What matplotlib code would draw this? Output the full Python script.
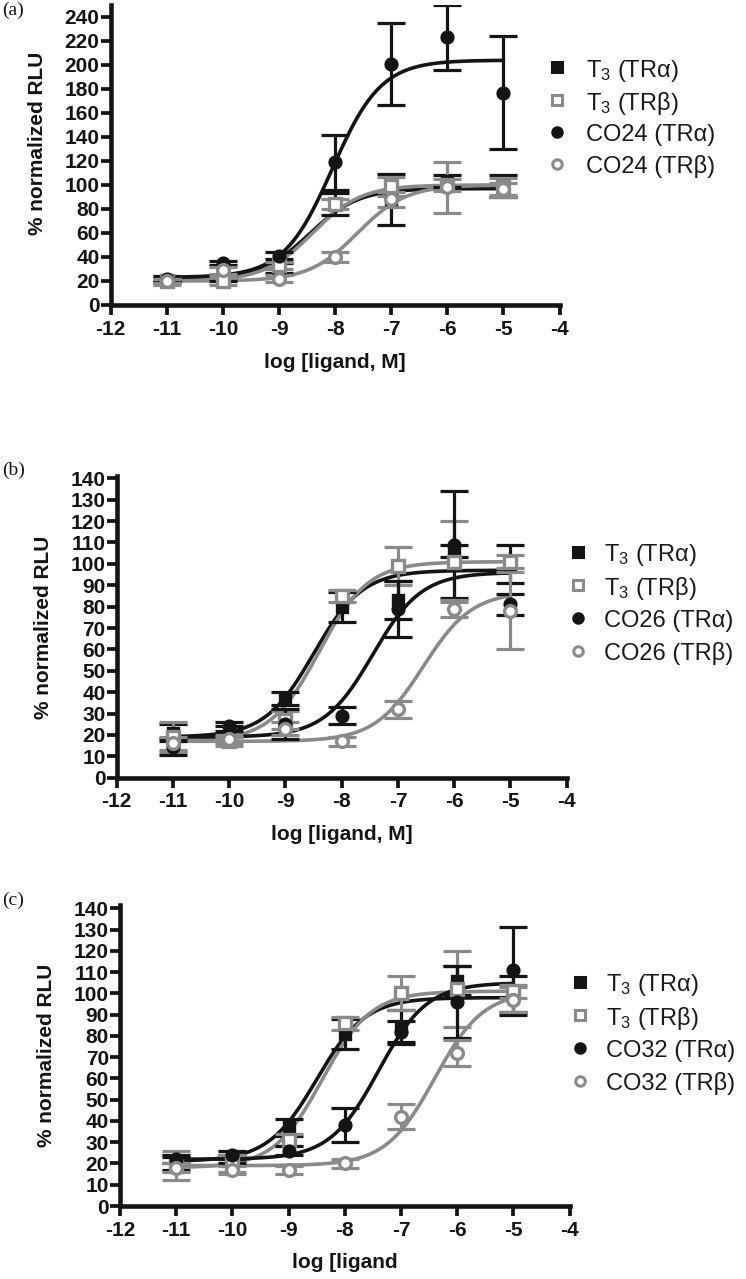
import numpy as np
import matplotlib
matplotlib.use("Agg")
import matplotlib.pyplot as plt
from matplotlib.lines import Line2D

plt.rcParams['font.family'] = ['Liberation Sans', 'DejaVu Sans']
plt.rcParams['mathtext.fontset'] = 'custom'
plt.rcParams['mathtext.rm'] = 'Liberation Sans'
plt.rcParams['mathtext.it'] = 'Liberation Sans:italic'
plt.rcParams['mathtext.bf'] = 'Liberation Sans:bold'

# ---------------- data ----------------
log_conc = [-11, -10, -9, -8, -7, -6, -5]
x_ticks = [-12, -11, -10, -9, -8, -7, -6, -5, -4]

# panel (a) : T3 and CO24
a_t3_tra = [21, 22, 31, 84, 88, 103, 99]
a_t3_tra_err = [2, 2, 4, 9, 21, 5, 9]
a_t3_trb = [20, 20, 33, 84, 99, 100, 98]
a_t3_trb_err = [3, 3, 3, 4, 8, 5, 8]
a_co_tra = [22, 35, 41, 119, 201, 223, 177]
a_co_tra_err = [2, 2, 3, 23, 34, 27, 47]
a_co_trb = [20, 29, 22, 40, 88, 98, 97]
a_co_trb_err = [2, 3, 3, 4, 6, 21, 5]
# fitted curves: bottom, top, logEC50, hill
a_fit_t3_tra = [22, 97, -8.45, 1.0]
a_fit_t3_trb = [20, 100, -8.4, 1.0]
a_fit_co_tra = [23, 204, -8.05, 1.0]
a_fit_co_trb = [20, 100, -7.6, 1.0]
a_yticks = list(range(0, 241, 20))
a_labels = ["T$_3$ (TRα)", "T$_3$ (TRβ)", "CO24 (TRα)", "CO24 (TRβ)"]

# panel (b) : T3 and CO26
b_t3_tra = [21, 22, 37, 80, 83, 106, 100]
b_t3_tra_err = [4, 2, 3, 7, 9, 3, 9]
b_t3_trb = [19, 17, 27, 85, 99, 101, 101]
b_t3_trb_err = [7, 2, 4, 3, 9, 19, 3]
b_co_tra = [14.5, 24, 25, 29, 79, 109, 81]
b_co_tra_err = [4, 2, 7, 4, 13, 25, 5]
b_co_trb = [16, 18, 23, 17, 32, 79, 78]
b_co_trb_err = [3, 2, 3, 2, 4, 4, 18]
b_fit_t3_tra = [19, 97, -8.5, 1.0]
b_fit_t3_trb = [17, 101, -8.4, 1.0]
b_fit_co_tra = [19, 96, -7.45, 1.0]
b_fit_co_trb = [17, 87, -6.55, 1.0]
b_yticks = list(range(0, 141, 10))
b_labels = ["T$_3$ (TRα)", "T$_3$ (TRβ)", "CO26 (TRα)", "CO26 (TRβ)"]

# panel (c) : T3 and CO32
c_t3_tra = [20, 22, 37, 81, 84, 106, 99]
c_t3_tra_err = [3, 2, 4, 7, 8, 7, 9]
c_t3_trb = [19, 20, 31, 86, 100, 102, 101]
c_t3_trb_err = [7, 4, 3, 3, 8, 18, 3]
c_co_tra = [22, 24, 26, 38, 82, 96, 111]
c_co_tra_err = [2, 2, 2, 8, 5, 17, 20]
c_co_trb = [18, 17, 17, 20, 42, 72, 97]
c_co_trb_err = [2, 2, 2, 2, 6, 6, 6]
c_fit_t3_tra = [21, 98, -8.5, 1.0]
c_fit_t3_trb = [18, 101, -8.4, 1.0]
c_fit_co_tra = [22, 105, -7.4, 1.0]
c_fit_co_trb = [19, 101, -6.4, 1.0]
c_yticks = list(range(0, 141, 10))
c_labels = ["T$_3$ (TRα)", "T$_3$ (TRβ)", "CO32 (TRα)", "CO32 (TRβ)"]

# ---------------- style ----------------
BLACK = '#141414'
GRAY = '#8a8a8a'
styles = [
    dict(color=BLACK, marker='s', mfc=BLACK, mec=BLACK),
    dict(color=GRAY, marker='s', mfc='white', mec=GRAY),
    dict(color=BLACK, marker='o', mfc=BLACK, mec=BLACK),
    dict(color=GRAY, marker='o', mfc='white', mec=GRAY),
]

W, H = 746, 1279
fig = plt.figure(figsize=(W / 100, H / 100), dpi=100)


def px_rect(left, bottom, width, height):
    return [left / W, 1 - bottom / H, width / W, height / H]


def hill(x, p):
    b, t, ec, h = p
    return b + (t - b) / (1 + 10 ** ((ec - x) * h))


def panel(rect, ylim, yticks, series, fits, labels, letter, letter_pos,
          leg_marker_x, leg_text_x, leg_rows, xlabel, ylabel_y):
    ax = fig.add_axes(px_rect(*rect))
    xs = np.linspace(-11, -5, 400)
    for (vals, errs), fit, st in zip(series, fits, styles):
        ax.plot(xs, hill(xs, fit), color=st['color'], lw=2.6, zorder=2,
                solid_capstyle='round')
        ax.errorbar(log_conc, vals, yerr=errs, fmt='none', ecolor=st['color'],
                    elinewidth=2.3, capsize=10, capthick=2.3, zorder=3)
        ax.plot(log_conc, vals, linestyle='none', marker=st['marker'],
                ms=8.5 if st['mfc'] == 'white' else 7.8,
                mfc=st['mfc'], mec=st['mec'], mew=2.4, zorder=4)
    ax.set_xlim(-12, -4)
    ax.set_ylim(*ylim)
    ax.set_xticks(x_ticks)
    ax.set_xticklabels([str(t) for t in x_ticks])
    ax.set_yticks(yticks)
    for s in ['top', 'right']:
        ax.spines[s].set_visible(False)
    for s in ['left', 'bottom']:
        ax.spines[s].set_linewidth(3.3)
        ax.spines[s].set_color(BLACK)
        ax.spines[s].set_capstyle('projecting')
    ax.tick_params(axis='both', direction='out', length=7, width=2.7,
                   color=BLACK, labelsize=15, labelcolor=BLACK)
    ax.tick_params(axis='x', pad=3.5)
    ax.tick_params(axis='y', pad=1)
    for lab in ax.get_xticklabels() + ax.get_yticklabels():
        lab.set_fontweight('bold')
    ax.set_ylabel('% normalized RLU', fontsize=15, fontweight='bold',
                  color=BLACK)
    axw = rect[2]
    ax.yaxis.set_label_coords(-73.0 / axw, ylabel_y)
    ax.set_xlabel(xlabel, fontsize=15, fontweight='bold', color=BLACK)
    ax.xaxis.set_label_coords(0.5, -57.0 / rect[3], transform=ax.transAxes)
    ax.xaxis.label.set_va('center')
    ax.yaxis.label.set_va('center')
    # legend drawn manually
    for lab, st, ry in zip(labels, styles, leg_rows):
        fig.add_artist(Line2D([leg_marker_x / W], [1 - ry / H],
                              transform=fig.transFigure, linestyle='none',
                              marker=st['marker'], ms=6.8,
                              mfc=st['mfc'], mec=st['mec'], mew=2.2))
        fig.text(leg_text_x / W, 1 - ry / H, lab, fontsize=17,
                 color='#1a1a1a', va='center_baseline', ha='left')
    fig.text(letter_pos[0] / W, 1 - letter_pos[1] / H, letter,
             family=['Liberation Serif', 'DejaVu Serif'], fontsize=14,
             va='top', ha='left', color=BLACK)
    return ax


# panel a
panel(rect=(110.7, 305, 448.8, 300.0), ylim=(0, 250), yticks=a_yticks,
      series=[(a_t3_tra, a_t3_tra_err), (a_t3_trb, a_t3_trb_err),
              (a_co_tra, a_co_tra_err), (a_co_trb, a_co_trb_err)],
      fits=[a_fit_t3_tra, a_fit_t3_trb, a_fit_co_tra, a_fit_co_trb],
      labels=a_labels, letter='(a)', letter_pos=(2, 2),
      leg_marker_x=557, leg_text_x=586, leg_rows=[67, 100, 132, 164],
      xlabel='log [ligand, M]', ylabel_y=0.54)

# panel b
panel(rect=(116.7, 777.7, 450.0, 301.5), ylim=(0, 141), yticks=b_yticks,
      series=[(b_t3_tra, b_t3_tra_err), (b_t3_trb, b_t3_trb_err),
              (b_co_tra, b_co_tra_err), (b_co_trb, b_co_trb_err)],
      fits=[b_fit_t3_tra, b_fit_t3_trb, b_fit_co_tra, b_fit_co_trb],
      labels=b_labels, letter='(b)', letter_pos=(2, 462),
      leg_marker_x=578, leg_text_x=604, leg_rows=[552, 585, 618, 651],
      xlabel='log [ligand, M]', ylabel_y=0.5)

# panel c
panel(rect=(120.0, 1206, 449.5, 300.9), ylim=(0, 141.5), yticks=c_yticks,
      series=[(c_t3_tra, c_t3_tra_err), (c_t3_trb, c_t3_trb_err),
              (c_co_tra, c_co_tra_err), (c_co_trb, c_co_trb_err)],
      fits=[c_fit_t3_tra, c_fit_t3_trb, c_fit_co_tra, c_fit_co_trb],
      labels=c_labels, letter='(c)', letter_pos=(2, 892),
      leg_marker_x=580, leg_text_x=606, leg_rows=[982, 1015, 1048, 1081],
      xlabel='log [ligand', ylabel_y=0.5)

fig.savefig('out.png', dpi=100, facecolor='white')
